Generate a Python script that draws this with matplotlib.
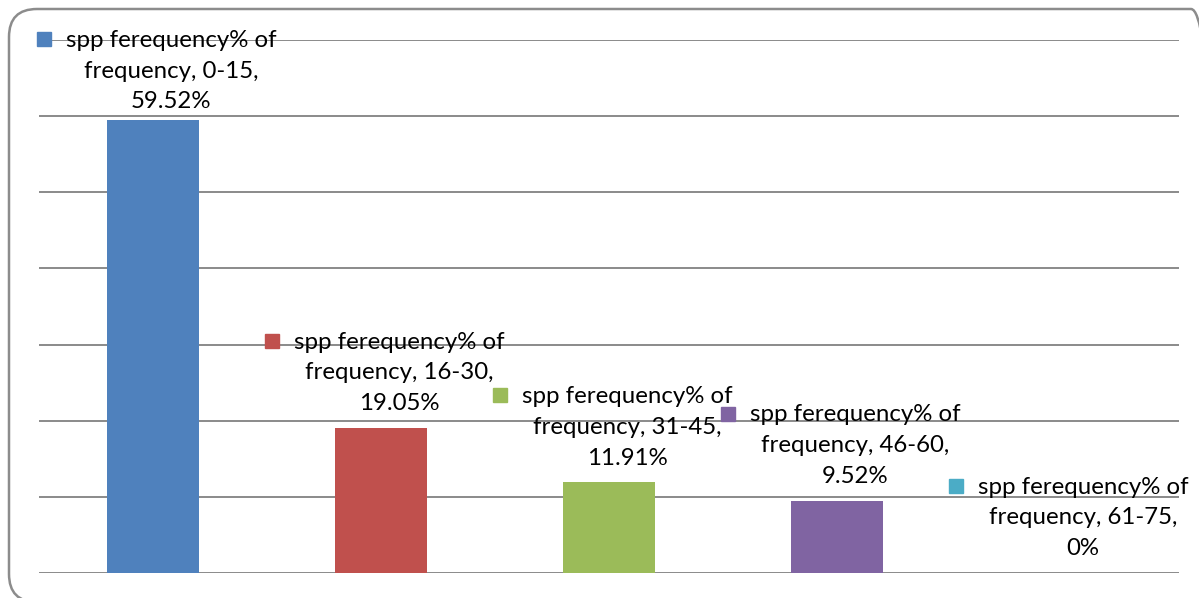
import matplotlib
matplotlib.use('Agg')
import matplotlib.pyplot as plt
from matplotlib.patches import FancyBboxPatch
from matplotlib.transforms import offset_copy

categories = ['0-15', '16-30', '31-45', '46-60', '61-75']
values = [59.52, 19.05, 11.91, 9.52, 0]
value_labels = ['59.52%', '19.05%', '11.91%', '9.52%', '0%']
series_name = 'spp ferequency% of'
colours = ['#4F81BD', '#C0504D', '#9BBB59', '#8064A2', '#4BACC6']

plt.rcParams['font.family'] = ['Lato', 'DejaVu Sans']

fig = plt.figure(figsize=(11.99, 5.98), dpi=100)
W, H = 1199, 598
ax = fig.add_axes([39 / W, 25 / H, 1140 / W, 533 / H])

x = list(range(len(categories)))
ax.bar(x, values, width=0.4, color=colours, zorder=3)

ax.set_xlim(-0.5, len(categories) - 0.5)
ax.set_ylim(0, 70)
ax.set_yticks(range(0, 71, 10))
ax.yaxis.grid(True, color='#8a8a8a', linewidth=1.4, zorder=0)
ax.tick_params(left=False, bottom=False, labelleft=False, labelbottom=False)
for s in ax.spines.values():
    s.set_visible(False)

# data labels with legend key, Excel style
for i, (cat, v, lab, c) in enumerate(zip(categories, values, value_labels, colours)):
    top_px = ax.transData.transform((i, v))[1]
    # middle line ~55px above bar, but keep label inside the chart
    dy = min(55, (H - 71) - top_px)
    t_text = offset_copy(ax.transData, fig=fig, x=18, y=dy, units='dots')
    ax.text(i, v, series_name + '\nfrequency, ' + cat + ',\n' + lab,
            transform=t_text, ha='center', va='center', fontsize=17.3,
            linespacing=1.57, color='black', zorder=5)
    t_box = offset_copy(ax.transData, fig=fig, x=18 - 127, y=dy + 32, units='dots')
    ax.plot([i], [v], marker='s', markersize=10.5, color=c, linestyle='none',
            transform=t_box, clip_on=False, zorder=5)

border = FancyBboxPatch((9, -4), 1210, 593, boxstyle='round,pad=0,rounding_size=28',
                        transform=None, facecolor='none', edgecolor='#8c8c8c',
                        linewidth=1.8)
fig.patches.append(border)

fig.savefig('out.png', dpi=100)
